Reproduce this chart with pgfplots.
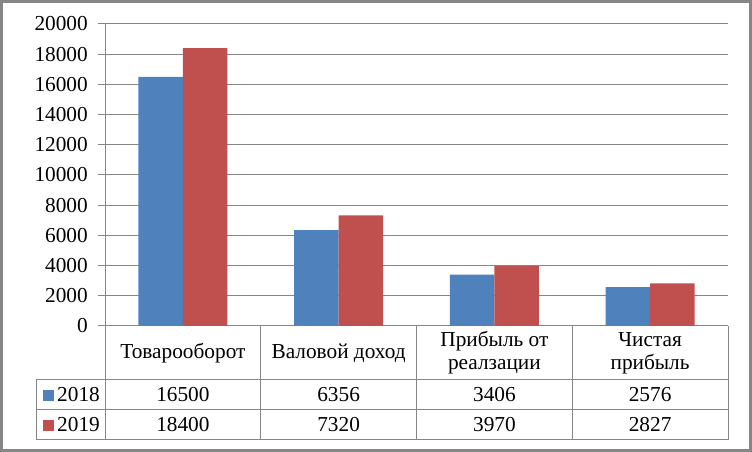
\documentclass[border=0pt]{standalone}
\usepackage{fontspec}
\setmainfont{Liberation Serif}
\usepackage{pgfplots}
\pgfplotsset{compat=1.18}
\definecolor{cblue}{HTML}{4F81BD}
\definecolor{cred}{HTML}{C0504D}
\definecolor{cgrid}{HTML}{868686}
\begin{document}
\fontsize{21.3}{23}\selectfont
\begin{tikzpicture}[x=1pt,y=1pt]
\useasboundingbox (0,0) rectangle (752,452);
\draw[cgrid, line width=3pt] (1.5,1.5) rectangle (750.5,450.5);
\begin{axis}[
  at={(105pt,126pt)}, anchor=south west,
  scale only axis, width=623pt, height=302pt,
  xmin=-0.5, xmax=3.5, ymin=0, ymax=20000,
  ybar=0pt, bar width=44.5pt,
  axis x line*=bottom, axis y line*=left,
  axis line style={cgrid, line width=1pt},
  xtick=\empty,
  ytick={0,2000,...,20000},
  ymajorgrids, grid style={cgrid, line width=1pt},
  major tick length=7pt, tick align=outside,
  ytick style={cgrid, line width=1pt},
  scaled ticks=false,
  yticklabel style={/pgf/number format/1000 sep={}, /pgf/number format/assume math mode=true, font=\rmfamily\fontsize{21.3}{23}\selectfont, anchor=east, inner sep=0pt, xshift=-10pt},
  clip=false,
]
\addplot[fill=cblue, draw=none] coordinates {(0,16500) (1,6356) (2,3406) (3,2576)};
\addplot[fill=cred, draw=none] coordinates {(0,18400) (1,7320) (2,3970) (3,2827)};
\end{axis}
% data table grid
\begin{scope}[cgrid, line width=1pt]
\draw (36,72) -- (728,72);
\draw (36,42) -- (728,42);
\draw (36,12) -- (728,12);
\draw (36,72) -- (36,12);
\foreach \x in {105,260.75,416.5,572.25,728} \draw (\x,126) -- (\x,12);
\end{scope}
% header row
\node at (182.9,99) {Товарооборот};
\node at (338.6,99) {Валовой доход};
\node[align=center] at (494.4,99) {Прибыль от\\реалзации};
\node[align=center] at (650.1,99) {Чистая\\прибыль};
% legend keys
\fill[cblue] (43,51) rectangle (54,62);
\fill[cred] (43,21) rectangle (54,32);
\node[anchor=west, inner sep=0pt] at (57,57) {2018};
\node[anchor=west, inner sep=0pt] at (57,27) {2019};
% values
\node at (182.9,57) {16500};
\node at (338.6,57) {6356};
\node at (494.4,57) {3406};
\node at (650.1,57) {2576};
\node at (182.9,27) {18400};
\node at (338.6,27) {7320};
\node at (494.4,27) {3970};
\node at (650.1,27) {2827};
\end{tikzpicture}
\end{document}
